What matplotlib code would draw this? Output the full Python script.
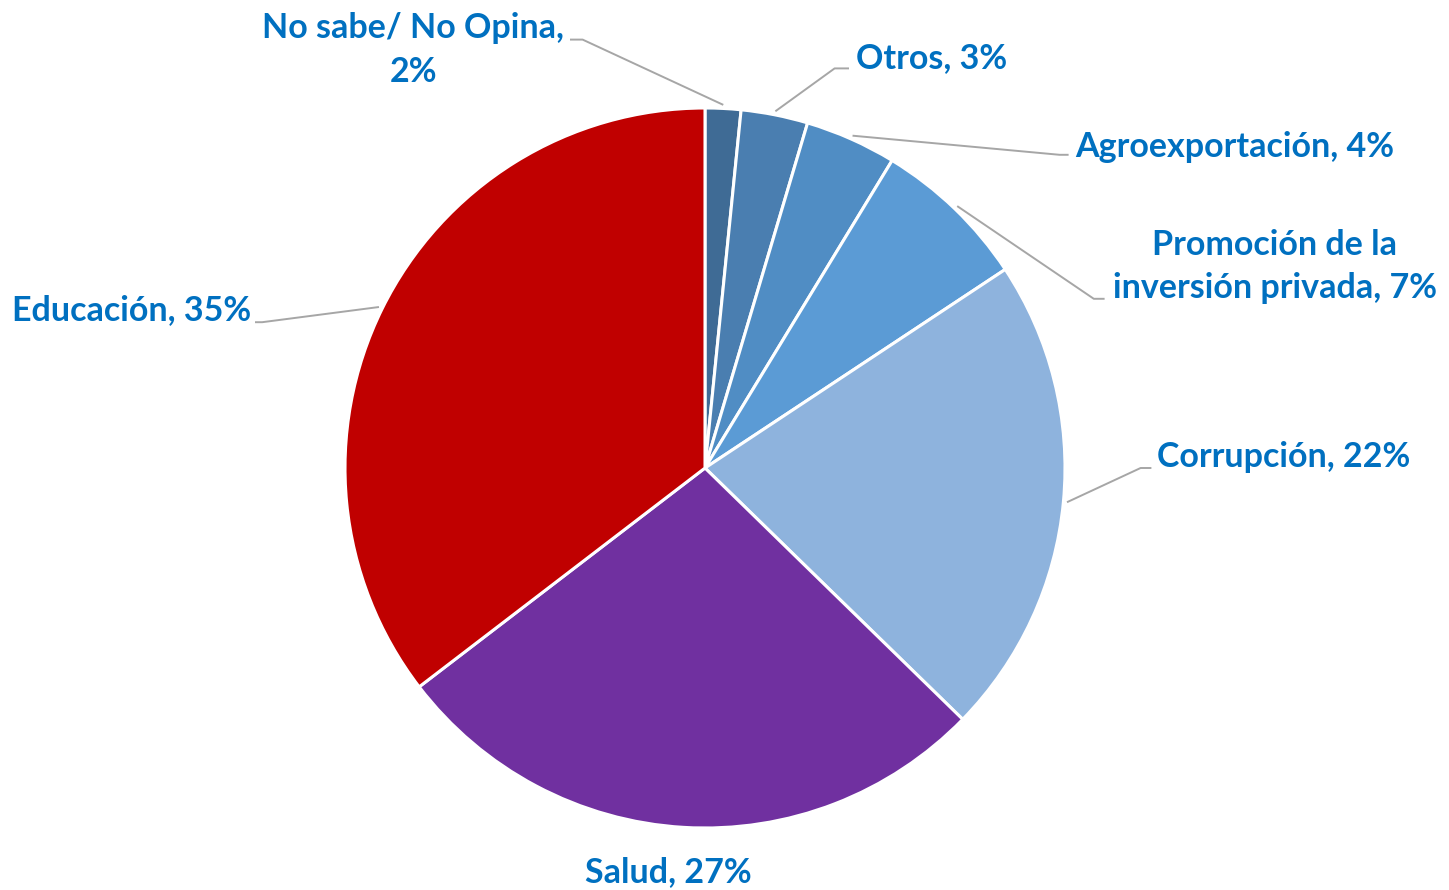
import numpy as np
import matplotlib
matplotlib.use("Agg")
import matplotlib.pyplot as plt

# datos (porcentaje de menciones)
categorias = ["No sabe/ No Opina", "Otros", "Agroexportación",
              "Promoción de la\ninversión privada", "Corrupción", "Salud", "Educación"]
valores = [1.6, 3.0, 4.1, 7.0, 21.6, 27.3, 35.4]
colores = ["#3F6B95", "#4A7EB0", "#508DC4", "#5B9BD5", "#8EB3DD", "#7030A0", "#C00000"]

# posicion de cada etiqueta (en unidades del radio) y codo de la linea guia
etiq_pos = [(-0.81, 1.162), (0.42, 1.14), (1.027, 0.892), (1.583, 0.56),
            (1.255, 0.03), (-0.103, -1.122), (-1.262, 0.44)]
etiq_ha = ["center", "left", "left", "center", "left", "center", "right"]
codos = [(-0.34, 1.19), (0.36, 1.11), (0.985, 0.87), (1.08, 0.47),
         (1.21, 0.0), None, (-1.23, 0.405)]
extremos = [(-0.375, 1.19), (0.40, 1.11), (1.01, 0.87), (1.11, 0.47),
            (1.24, 0.0), None, (-1.25, 0.405)]

azul = "#0070C0"
gris = "#A6A6A6"

fig = plt.figure(figsize=(14.49, 8.90), dpi=100)
ax = fig.add_axes([0, 0, 1, 1])

wedges, _ = ax.pie(valores, colors=colores, startangle=90, counterclock=False,
                   radius=1.0, wedgeprops=dict(edgecolor="white", linewidth=2.2))

for w, cat, val, pos, ha, codo, ext in zip(wedges, categorias, valores, etiq_pos,
                                           etiq_ha, codos, extremos):
    texto = f"{cat}, {val:.0f}%"
    if cat.startswith("No sabe"):
        texto = f"{cat},\n{val:.0f}%"
    ax.text(pos[0], pos[1], texto, ha=ha, va="center", multialignment="center",
            color=azul, fontsize=24.5, fontweight="bold", family=["Lato", "DejaVu Sans"],
            linespacing=1.45)
    if codo is None:
        continue
    ang = np.deg2rad((w.theta1 + w.theta2) / 2)
    x0, y0 = np.cos(ang) * 1.01, np.sin(ang) * 1.01
    ax.plot([x0, codo[0], ext[0]], [y0, codo[1], ext[1]], color=gris, lw=1.4,
            solid_capstyle="butt")

ax.set_xlim(-705 / 360, (1449 - 705) / 360)
ax.set_ylim((468 - 890) / 360, 468 / 360)
ax.set_aspect("equal")
ax.axis("off")

fig.savefig("out.png", dpi=100, facecolor="white")
